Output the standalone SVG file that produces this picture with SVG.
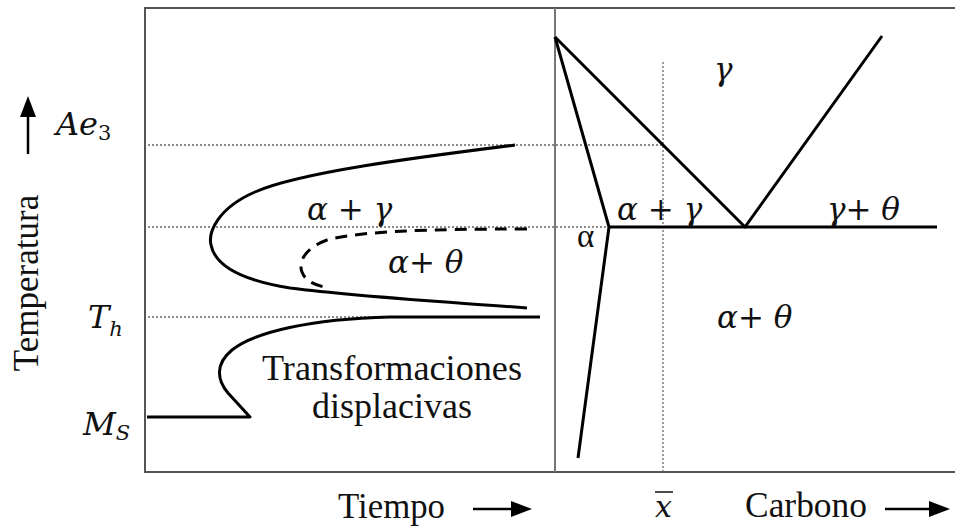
<svg xmlns="http://www.w3.org/2000/svg" width="955" height="528" viewBox="0 0 955 528">
<style>
.frame{fill:none;stroke:#555;stroke-width:2}
.curve{fill:none;stroke:#000;stroke-width:3;stroke-linejoin:round}
.dash{fill:none;stroke:#000;stroke-width:3;stroke-dasharray:12 8}
.dot{fill:none;stroke:#666;stroke-width:1.3;stroke-dasharray:2 2}
.t{font-family:"Liberation Serif","DejaVu Serif",serif;fill:#111}
.it{font-family:"DejaVu Serif","Liberation Serif",serif;font-style:italic}
.up{font-style:normal}
.arrow{stroke:#000;stroke-width:2.5}
.head{fill:#000}
</style>
<rect width="955" height="528" fill="#fff"/>
<g id="frame">
<path class="frame" d="M955,8 L145,8 L145,472 L955,472"/>
<path d="M555,8 L555,472" stroke="#777" stroke-width="2"/>
</g>
<g id="guides">
<path class="dot" d="M148,145 L663,145"/>
<path class="dot" d="M148,227 L609,227"/>
<path class="dot" d="M148,317 L390,317"/>
<path class="dot" d="M663,62 L663,472"/>
</g>
<g id="connectors">
<path class="curve" d="M515,145 C420,157 300,172 255,192 C218,208 208,232 211,245 C215,265 240,280 290,288 C360,297 450,302 527,308"/>
<path class="dash" d="M527,229 C430,229 360,231 327,240 C305,248 298,262 302,272 C305,280 312,284 324,287"/>
<path class="curve" d="M540,317 L390,317 C310,319 255,332 232,350 C215,364 217,380 228,393 L250,417 L147,417"/>
<path class="curve" d="M555,37 L609,227 L578,458"/>
<path class="curve" d="M555,37 L745,227 L882,36"/>
<path class="curve" d="M609,227 L937,227"/>
<path class="arrow" d="M28,154 L28,112"/>
<polygon class="head" points="28,96 36,117 20,117"/>
<path class="arrow" d="M473,509 L515,509"/>
<polygon class="head" points="532,509 511,501 511,517"/>
<path class="arrow" d="M885,509 L932,509"/>
<polygon class="head" points="950,509 929,501 929,517"/>
</g>
<g id="labels">
<text class="t" transform="translate(38,283) rotate(-90)" text-anchor="middle" font-size="35">Temperatura</text>
<text class="t it" x="56" y="135" font-size="32">Ae<tspan class="up" font-size="21" dy="5">3</tspan></text>
<text class="t it" x="88" y="328" font-size="32">T<tspan font-size="21" dy="8">h</tspan></text>
<text class="t it" x="83" y="435" font-size="32">M<tspan font-size="21" dy="5">S</tspan></text>
<text class="t" x="392" y="380" text-anchor="middle" font-size="35" textLength="260" lengthAdjust="spacingAndGlyphs">Transformaciones</text>
<text class="t" x="392" y="418" text-anchor="middle" font-size="35" textLength="160" lengthAdjust="spacingAndGlyphs">displacivas</text>
<text class="t" x="338" y="518" font-size="35" textLength="107" lengthAdjust="spacingAndGlyphs">Tiempo</text>
<text class="t" x="745" y="517" font-size="35" textLength="122" lengthAdjust="spacingAndGlyphs">Carbono</text>
<text class="t it" x="655" y="517" font-size="30">x</text>
<path d="M655,492 L673,492" stroke="#111" stroke-width="1.5"/>
<text class="t it" x="307" y="220" font-size="31">α <tspan class="up">+</tspan> γ</text>
<text class="t it" x="388" y="273" font-size="31">α<tspan class="up">+</tspan> θ</text>
<text class="t it" x="617" y="220" font-size="31">α <tspan class="up">+</tspan> γ</text>
<text class="t" x="577" y="247" font-size="33">α</text>
<text class="t it" x="714" y="80" font-size="31">γ</text>
<text class="t it" x="827" y="220" font-size="31">γ<tspan class="up">+</tspan> θ</text>
<text class="t it" x="717" y="328" font-size="31">α<tspan class="up">+</tspan> θ</text>
</g>
</svg>
